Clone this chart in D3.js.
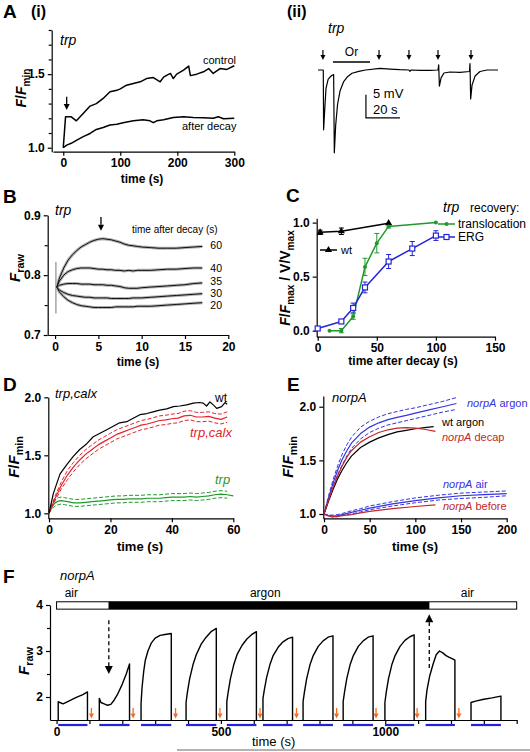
<!DOCTYPE html>
<html><head><meta charset="utf-8">
<script src="https://cdn.jsdelivr.net/npm/d3@7"></script>
<style>body{margin:0;background:#fff}</style>
</head><body>
<svg id="c" width="530" height="752"></svg>
<script>
// ---------------- DATA ----------------
// A(i) F/Fmin vs time (s)
const aControl = [[0,1.0],[4,1.21],[14,1.21],[23,1.183],[35,1.233],[47,1.283],[58,1.30],[70,1.335],[82,1.38],[94,1.39],[100,1.40],[111,1.425],[123,1.437],[135,1.448],[146,1.47],[158,1.477],[170,1.448],[176,1.48],[182,1.493],[188,1.505],[193,1.47],[199,1.50],[211,1.527],[220,1.555],[223,1.49],[234,1.50],[246,1.516],[255,1.538],[263,1.505],[275,1.538],[287,1.532],[300,1.557]];
const aDecay = [[0,1.0],[6,1.018],[14,1.03],[23,1.05],[35,1.075],[47,1.097],[58,1.124],[70,1.138],[82,1.154],[94,1.16],[105,1.17],[123,1.183],[140,1.19],[152,1.183],[158,1.17],[164,1.183],[176,1.19],[193,1.206],[211,1.21],[228,1.206],[246,1.204],[263,1.2],[272,1.21],[281,1.197],[300,1.2]];
const aXTicks = [0,100,200,300];
const aYTicks = [1.0,1.5];
const aYMinor = [1.1,1.2,1.3,1.4,1.6,1.7,1.8];
// A(ii) ERG trace: time (s), mV
const iiT = [0,2.4,3.1,3.3,3.9,4.7,6,8,9.2,9.6,10.4,11.5,13,15,17.5,20,24,28,36.5,42.4,48.2,53.5,54.1,54.7,60,65.9,70.6,71.0,71.4,72.4,74.1,77.6,83.5,89.1,89.4,89.8,90.6,92.4,95.3,99.4,105.9];
const iiV = [0,0,0,-13,-9,-4,-2,-1.2,-1.0,-18,-12,-7.5,-4.5,-2.6,-1.4,-0.7,-0.3,0,0.37,0.2,0.07,0,-0.3,0,-0.07,-0.07,0,1.1,-3.5,-1.7,-0.65,-0.43,-0.5,-0.33,1.4,-6.3,-3.3,-1.3,-0.33,0,0];
const iiArrows = [2.9,35.9,53.5,70.6,90];
const iiOdor = [8.8,30.6];
// B F_raw traces
const bTime = [0.2,0.5,1,1.5,2,2.5,3,3.5,4,4.5,5,5.5,6,6.5,7,7.5,8,8.5,9,9.5,10,11,12,13,14,15,16,17];
const b60 = [0.78,0.795,0.812,0.825,0.834,0.841,0.847,0.851,0.855,0.858,0.86,0.861,0.86,0.859,0.857,0.855,0.852,0.85,0.849,0.848,0.847,0.846,0.845,0.845,0.845,0.846,0.847,0.848];
const b40 = [0.78,0.79,0.80,0.806,0.809,0.811,0.812,0.812,0.812,0.811,0.81,0.81,0.809,0.809,0.808,0.808,0.807,0.808,0.807,0.808,0.808,0.808,0.809,0.81,0.81,0.811,0.812,0.812];
const b35 = [0.78,0.783,0.785,0.786,0.786,0.786,0.785,0.785,0.785,0.784,0.784,0.784,0.783,0.783,0.782,0.781,0.779,0.778,0.778,0.778,0.779,0.78,0.781,0.782,0.783,0.784,0.786,0.787];
const b30 = [0.78,0.775,0.771,0.768,0.766,0.765,0.764,0.763,0.763,0.762,0.762,0.762,0.762,0.761,0.761,0.761,0.761,0.761,0.762,0.762,0.762,0.763,0.764,0.765,0.766,0.767,0.768,0.769];
const b20 = [0.78,0.772,0.764,0.758,0.754,0.751,0.749,0.748,0.747,0.746,0.746,0.746,0.746,0.746,0.747,0.747,0.747,0.747,0.747,0.748,0.748,0.748,0.749,0.75,0.751,0.752,0.753,0.754];
const bLabels = ["60","40","35","30","20"];
const bLabelY = [0.843,0.805,0.783,0.763,0.743];
const bXTicks = [0,5,10,15,20];
const bYTicks = [0.7,0.8,0.9];
const bYMinor = [0.75,0.85];
// C recovery
const cWtT = [2,20,60], cWt = [0.91,0.92,0.995], cWtE = [0.02,0.03,0];
const cTrT = [10,20,30,40,50,60,100], cTr = [0.0,0.0,0.13,0.59,0.81,0.965,1.0], cTrE = [0,0.02,0.025,0.08,0.09,0.015,0];
const cErT = [0,20,30,40,60,80,100], cEr = [0.02,0.085,0.21,0.40,0.64,0.76,0.88], cErE = [0,0.015,0.045,0.05,0.065,0.065,0.045];
const cXTicks = [0,50,100,150];
const cYTicks = [0,0.5,1.0];
// D F/Fmin
const dWtT = [0,1.4,3.6,5.8,7.9,10,12.3,14.4,16.6,18.8,20.9,23,25.3,27.4,29.6,31.8,33.9,36,38.3,40.5,42.6,44.8,47,49,50.2,51.3,52.4,53.5,54.6,56.2,57.3,58];
const dWt = [1.0,1.17,1.34,1.42,1.49,1.55,1.60,1.66,1.69,1.72,1.75,1.78,1.79,1.82,1.85,1.86,1.875,1.89,1.90,1.92,1.925,1.935,1.95,1.955,1.95,1.925,1.96,1.935,1.905,1.92,1.955,1.94];
const dCalxT = [0,2,4,6,8,10,12,14,16,18,20,22,24,26,28,30,32,34,36,38,40,42,44,46,48,50,52,54,56,58];
const dCalx = [1.0,1.13,1.24,1.33,1.40,1.46,1.51,1.55,1.59,1.62,1.65,1.68,1.70,1.72,1.74,1.76,1.77,1.785,1.80,1.805,1.815,1.82,1.84,1.845,1.83,1.83,1.835,1.82,1.81,1.83];
const dCalxU = [1.0,1.15,1.27,1.37,1.44,1.50,1.55,1.59,1.63,1.66,1.69,1.72,1.74,1.76,1.78,1.80,1.81,1.825,1.84,1.845,1.855,1.86,1.88,1.885,1.87,1.87,1.875,1.86,1.855,1.875];
const dCalxL = [1.0,1.11,1.21,1.29,1.36,1.42,1.47,1.51,1.55,1.58,1.61,1.64,1.66,1.68,1.70,1.72,1.73,1.745,1.76,1.765,1.775,1.78,1.80,1.805,1.79,1.79,1.795,1.78,1.77,1.785];
const dTrpT = [0,1,2,3,4,5,6,8,10,12,14,16,18,20,22,24,26,28,30,32,34,36,38,40,42,44,46,48,50,52,54,56,58,60];
const dTrp = [1.0,1.06,1.09,1.105,1.11,1.105,1.1,1.09,1.09,1.095,1.1,1.105,1.11,1.115,1.12,1.12,1.125,1.125,1.125,1.13,1.13,1.13,1.135,1.14,1.14,1.14,1.145,1.14,1.145,1.15,1.16,1.165,1.16,1.15];
const dTrpU = [1.0,1.08,1.115,1.135,1.14,1.135,1.13,1.12,1.12,1.125,1.13,1.135,1.14,1.145,1.15,1.15,1.155,1.155,1.155,1.16,1.16,1.16,1.165,1.17,1.17,1.17,1.175,1.17,1.175,1.18,1.19,1.195,1.19];
const dTrpL = [1.0,1.04,1.065,1.075,1.08,1.075,1.07,1.06,1.06,1.065,1.07,1.075,1.08,1.085,1.09,1.09,1.095,1.095,1.095,1.1,1.1,1.1,1.105,1.11,1.11,1.11,1.115,1.11,1.115,1.12,1.13,1.135,1.13];
const dXTicks = [0,20,40,60];
const dYTicks = [1.0,1.5,2.0];
// E F/Fmin norpA
const eArgT = [0,5,10,15,20,25,30,40,50,60,70,80,90,100,115,130,145];
const eArg = [1.0,1.15,1.29,1.41,1.51,1.59,1.66,1.75,1.81,1.85,1.88,1.90,1.92,1.94,1.97,2.0,2.03];
const eArgU = [1.0,1.17,1.32,1.45,1.56,1.645,1.715,1.81,1.865,1.905,1.935,1.955,1.975,1.99,2.02,2.05,2.085];
const eArgL = [1.0,1.13,1.26,1.37,1.46,1.54,1.61,1.70,1.76,1.80,1.83,1.85,1.87,1.89,1.92,1.95,1.975];
const eWtT = [0,5,10,15,20,25,30,40,50,60,70,80,90,100,110,120];
const eWt = [1.0,1.12,1.23,1.33,1.41,1.48,1.54,1.62,1.67,1.71,1.74,1.765,1.78,1.795,1.805,1.815];
const eDecT = [0,5,10,15,20,25,30,40,50,60,70,80,90,100,110,122];
const eDec = [1.0,1.13,1.25,1.36,1.45,1.53,1.59,1.67,1.72,1.76,1.785,1.80,1.805,1.80,1.79,1.77];
const eAirT = [0,5,10,15,20,30,40,50,75,100,125,150,175,200];
const eAir = [1.0,0.985,0.98,0.985,0.995,1.015,1.035,1.055,1.095,1.125,1.15,1.17,1.18,1.19];
const eAirU = [1.0,0.99,0.99,0.995,1.005,1.03,1.05,1.075,1.115,1.15,1.175,1.195,1.205,1.215];
const eAirL = [1.0,0.98,0.97,0.975,0.985,1.0,1.02,1.04,1.075,1.105,1.13,1.145,1.155,1.17];
const eBefT = [0,5,10,15,20,30,40,50,75,100,122];
const eBef = [1.0,0.982,0.975,0.978,0.985,0.995,1.01,1.025,1.05,1.07,1.085];
const eXTicks = [0,50,100,150,200];
const eYTicks = [1.0,1.5,2.0];
// F F_raw vs time (s)
const fSegments = [
 [[5,1.5],[5,1.9],[10,1.88],[20,1.85],[40,1.92],[60,1.99],[80,2.05],[94,2.11],[94,1.5]],
 [[130,1.5],[130,1.97],[135,1.88],[145,1.85],[155,1.82],[165,1.84],[175,1.93],[185,2.05],[200,2.28],[212,2.5],[222,2.72],[222,1.5]],
 [[257,1.5],[257,1.85],[260,2.2],[265,2.55],[270,2.8],[278,3.0],[288,3.17],[300,3.28],[315,3.34],[330,3.36],[349,3.38],[349,1.5]],
 [[394,1.5],[394,1.88],[398,2.1],[405,2.4],[415,2.7],[425,2.92],[440,3.15],[455,3.3],[470,3.42],[486,3.49],[486,1.5]],
 [[518,1.5],[518,1.9],[522,2.1],[529,2.4],[539,2.7],[549,2.92],[564,3.12],[579,3.26],[594,3.36],[608,3.42],[608,1.5]],
 [[628,1.5],[628,1.97],[632,2.15],[639,2.42],[649,2.7],[659,2.9],[674,3.08],[689,3.2],[704,3.27],[718,3.30],[718,1.5]],
 [[750,1.5],[750,1.9],[754,2.1],[761,2.4],[771,2.7],[781,2.9],[796,3.1],[811,3.22],[826,3.3],[841,3.33],[841,1.5]],
 [[872,1.5],[872,1.9],[876,2.1],[883,2.4],[893,2.7],[903,2.9],[918,3.1],[933,3.22],[948,3.3],[963,3.33],[963,1.5]],
 [[999,1.5],[999,1.88],[1003,2.1],[1010,2.4],[1020,2.7],[1030,2.9],[1045,3.1],[1060,3.23],[1075,3.31],[1088,3.35],[1088,1.5]],
 [[1123,1.5],[1123,1.9],[1127,2.15],[1135,2.45],[1145,2.7],[1155,2.92],[1165,3.0],[1175,2.96],[1185,2.9],[1195,2.86],[1205,2.83],[1212,2.8],[1212,1.5]],
 [[1261,1.5],[1261,1.88],[1275,1.91],[1300,1.95],[1325,1.98],[1352,2.02],[1352,1.5]]
];
const fStim = [[5,94],[130,222],[257,349],[394,486],[518,608],[628,718],[750,841],[872,963],[999,1088],[1123,1212],[1261,1352]];
const fOrange = [106,233,362,497,619,730,852,972,1097,1224];
const fGas = [["air",0,158],["argon",158,1135],["air",1135,1400]];
const fXTicks = [0,500,1000];
const fXMinor = [100,200,300,400,600,700,800,900,1100,1200,1300,1400];
const fYTicks = [2,3,4];
const fYMinor = [2.5,3.5];

// ---------------- DRAW ----------------
const FONT = '"Liberation Sans", Arial, Helvetica, sans-serif';
const svg = d3.select("#c");
const RED = "#e3222b", GREEN = "#1f9a2a", BLUE = "#2323d8", DRED = "#c1272d", EBLUE = "#3333e0";

function styleAxis(a, fs){
  a.select(".domain").attr("stroke","#000").attr("stroke-width",1.2);
  a.selectAll(".tick line").attr("stroke","#000").attr("stroke-width",1.2);
  a.selectAll(".tick text").attr("font-family",FONT).attr("font-weight","bold").attr("font-size",fs||12).attr("fill","#000");
}
function yAxis(sc, x, major, minor, fmt, fs){
  const a = svg.append("g").attr("transform",`translate(${x},0)`)
    .call(d3.axisLeft(sc).tickValues(major).tickSize(4).tickSizeOuter(0).tickFormat(fmt));
  styleAxis(a, fs);
  if (minor){ const m = svg.append("g").attr("transform",`translate(${x},0)`)
    .call(d3.axisLeft(sc).tickValues(minor).tickSize(3).tickFormat("")); m.select(".domain").remove(); styleAxis(m); }
}
function xAxis(sc, y, major, minor, fmt, fs){
  const a = svg.append("g").attr("transform",`translate(0,${y})`)
    .call(d3.axisBottom(sc).tickValues(major).tickSize(4).tickSizeOuter(0).tickFormat(fmt));
  styleAxis(a, fs);
  if (minor){ const m = svg.append("g").attr("transform",`translate(0,${y})`)
    .call(d3.axisBottom(sc).tickValues(minor).tickSize(4).tickFormat("")); m.select(".domain").remove(); styleAxis(m); }
}
function txt(x, y, s, o={}){
  const t = svg.append("text").attr("x",x).attr("y",y).attr("font-family",FONT)
    .attr("font-size",o.size||12).attr("fill",o.fill||"#000");
  if (o.bold) t.attr("font-weight","bold");
  if (o.italic) t.attr("font-style","italic");
  if (o.anchor) t.attr("text-anchor",o.anchor);
  t.text(s); return t;
}
function rich(t, parts, base){
  let shift = 0;
  parts.forEach(p => {
    const ts = t.append("tspan").text(p.t);
    if (p.i) ts.attr("font-style","italic");
    if (p.sub){ ts.attr("font-size", base*0.72).attr("dy", 4 - shift); shift = 4; }
    else if (shift){ ts.attr("dy", -shift); shift = 0; }
  });
}
function ylab(x, y, parts, size){
  const t = svg.append("text").attr("transform",`translate(${x},${y}) rotate(-90)`)
    .attr("text-anchor","middle").attr("font-family",FONT).attr("font-weight","bold").attr("font-size",size||14);
  rich(t, parts, size||14);
}
function richText(x, y, parts, o={}){
  const t = svg.append("text").attr("x",x).attr("y",y).attr("font-family",FONT).attr("font-size",o.size||12).attr("fill",o.fill||"#000");
  if (o.bold) t.attr("font-weight","bold");
  if (o.anchor) t.attr("text-anchor",o.anchor);
  rich(t, parts, o.size||12);
}
function vArrow(x, y0, tip, o={}){
  const dir = Math.sign(tip - y0), hl = o.hl||6, hw = o.hw||3;
  svg.append("line").attr("x1",x).attr("x2",x).attr("y1",y0).attr("y2",tip - dir*hl)
    .attr("stroke",o.color||"#000").attr("stroke-width",o.w||1.3).attr("stroke-dasharray",o.dash||null);
  svg.append("path").attr("d",`M${x-hw},${tip-dir*hl}L${x+hw},${tip-dir*hl}L${x},${tip}Z`).attr("fill",o.color||"#000");
}
function path(data, xs, ys, o={}){
  svg.append("path").datum(data)
    .attr("d", d3.line().x(d=>xs(d[0])).y(d=>ys(d[1])))
    .attr("fill","none").attr("stroke",o.color||"#000").attr("stroke-width",o.w||1.2)
    .attr("stroke-dasharray",o.dash||null).attr("stroke-linejoin","round");
}
const zip = (t, v) => v.map((d,i)=>[t[i], d]);
const F1 = d3.format(".1f"), FD = d3.format("d");

// Panel letters
txt(3,18,"A",{size:19,bold:true}); txt(31,17,"(i)",{size:16,bold:true});
txt(287,17,"(ii)",{size:16,bold:true});
txt(3,203,"B",{size:19,bold:true}); txt(286,202,"C",{size:19,bold:true});
txt(3,391,"D",{size:19,bold:true}); txt(287,391,"E",{size:19,bold:true});
txt(3,583,"F",{size:19,bold:true});

// ---- A(i)
const xA = d3.scaleLinear([-18,300],[53,234.3]);
const yA = d3.scaleLinear([0.973,1.8],[151.7,30]);
yAxis(yA, 51.7, aYTicks, aYMinor, F1);
xAxis(xA, 151.7, aXTicks, null, FD);
path(aControl, xA, yA, {w:1.5});
path(aDecay, xA, yA, {w:1.5});
vArrow(xA(6), yA(1.346), yA(1.256), {w:1.3});
txt(60,45,"trp",{size:14,italic:true});
txt(203,64,"control",{size:11});
txt(182,130,"after decay",{size:11});
txt(142,183,"time  (s)",{size:12,bold:true,anchor:"middle"});
ylab(26,88,[{t:"F",i:1},{t:"/"},{t:"F",i:1},{t:"min",sub:1}],14);

// ---- A(ii)
const xT = d3.scaleLinear([0,106],[318,498.2]);
const yT = d3.scaleLinear([0,-10],[70,116]);
path(zip(iiT,iiV), xT, yT, {w:1.2});
iiArrows.forEach(t => vArrow(xT(t), yT(4.35), yT(2.17), {hl:5,hw:2.5,w:1.2}));
svg.append("line").attr("x1",xT(iiOdor[0])).attr("x2",xT(iiOdor[1])).attr("y1",62).attr("y2",62).attr("stroke","#000").attr("stroke-width",1.6);
txt(xT((iiOdor[0]+iiOdor[1])/2),56,"Or",{size:12,anchor:"middle"});
txt(328,33,"trp",{size:14,italic:true});
svg.append("path").attr("d",`M${xT(28.2)},${yT(-5.4)}V${yT(-10.4)}H${xT(48.2)}`).attr("fill","none").attr("stroke","#000").attr("stroke-width",1.2);
txt(373,98,"5 mV",{size:13}); txt(373,114,"20 s",{size:13});

// ---- B
const xB = d3.scaleLinear([-0.85,20],[47.7,228.3]);
const yB = d3.scaleLinear([0.7,0.9],[335,215.3]);
yAxis(yB, 47.7, bYTicks, bYMinor, F1);
xAxis(xB, 335, bXTicks, null, FD);
svg.append("line").attr("x1",xB(0.1)).attr("x2",xB(0.1)).attr("y1",yB(0.822)).attr("y2",yB(0.736)).attr("stroke","#777").attr("stroke-width",1);
const bSeries = [b60,b40,b35,b30,b20];
bSeries.forEach(s => path(zip(bTime,s),xB,yB,{color:"#b0b0b0",w:3}));
bSeries.forEach(s => path(zip(bTime,s),xB,yB,{color:"#111",w:1}));
bSeries.forEach((s,i) => txt(xB(17)+8, yB(bLabelY[i]), bLabels[i], {size:10.5}));
vArrow(xB(5.3), yB(0.897), yB(0.874), {w:1.3});
txt(55,215,"trp",{size:14,italic:true});
txt(132,233,"time after decay (s)",{size:10});
txt(138,366,"time (s)",{size:12,bold:true,anchor:"middle"});
ylab(20,268,[{t:"F",i:1},{t:"raw",sub:1}],15);

// ---- C
const xC = d3.scaleLinear([-0.85,150],[316.7,495]);
const yC = d3.scaleLinear([-0.056,1.04],[336.7,218.3]);
yAxis(yC, 316.7, cYTicks, null, F1);
xAxis(xC, 336.7, cXTicks, null, FD);
function errs(T,V,E,col){
  T.forEach((t,i)=>{ if(!E[i]) return; const x=xC(t);
    svg.append("path").attr("d",`M${x},${yC(V[i]-E[i])}V${yC(V[i]+E[i])}M${x-2.5},${yC(V[i]-E[i])}h5M${x-2.5},${yC(V[i]+E[i])}h5`).attr("stroke",col).attr("stroke-width",1).attr("fill","none"); });
}
errs(cWtT,cWt,cWtE,"#000"); errs(cTrT,cTr,cTrE,GREEN); errs(cErT,cEr,cErE,BLUE);
path(zip(cWtT,cWt),xC,yC,{w:1.5});
path(zip(cTrT,cTr),xC,yC,{color:GREEN,w:1.5});
path(zip(cErT,cEr),xC,yC,{color:BLUE,w:1.5});
const tri = d3.symbol(d3.symbolTriangle, 22);
cWtT.forEach((t,i)=> svg.append("path").attr("d",tri()).attr("transform",`translate(${xC(t)},${yC(cWt[i])})`).attr("fill","#000"));
cTrT.forEach((t,i)=> svg.append("circle").attr("cx",xC(t)).attr("cy",yC(cTr[i])).attr("r",2).attr("fill",GREEN));
cErT.forEach((t,i)=> svg.append("rect").attr("x",xC(t)-2.5).attr("y",yC(cEr[i])-2.5).attr("width",5).attr("height",5).attr("fill","#fff").attr("stroke",BLUE).attr("stroke-width",1.2));
// legend
svg.append("line").attr("x1",320).attr("x2",337).attr("y1",250).attr("y2",250).attr("stroke","#000").attr("stroke-width",1.5);
svg.append("path").attr("d",tri()).attr("transform","translate(328.5,250)").attr("fill","#000");
txt(341,254,"wt",{size:11});
richText(443,212,[{t:"trp",i:1}],{size:14});
txt(470,212,"recovery:",{size:12});
svg.append("line").attr("x1",438).attr("x2",455).attr("y1",224).attr("y2",224).attr("stroke",GREEN).attr("stroke-width",1.5);
svg.append("circle").attr("cx",446.5).attr("cy",224).attr("r",2).attr("fill",GREEN);
txt(458,228,"translocation",{size:12});
svg.append("line").attr("x1",438).attr("x2",455).attr("y1",237).attr("y2",237).attr("stroke",BLUE).attr("stroke-width",1.5);
svg.append("rect").attr("x",444).attr("y",234.5).attr("width",5).attr("height",5).attr("fill","#fff").attr("stroke",BLUE).attr("stroke-width",1.2);
txt(458,241,"ERG",{size:12});
txt(403,365,"time after decay (s)",{size:12,bold:true,anchor:"middle"});
ylab(290,278,[{t:"F",i:1},{t:"/"},{t:"F",i:1},{t:"max",sub:1},{t:"  / V/V"},{t:"max",sub:1}],14);

// ---- D
const xD = d3.scaleLinear([-0.23,60],[48.3,233.3]);
const yD = d3.scaleLinear([0.957,2.0],[518.3,397.3]);
yAxis(yD, 48.3, dYTicks, null, F1);
xAxis(xD, 518.3, dXTicks, null, FD);
path(zip(dTrpT,dTrpU),xD,yD,{color:GREEN,w:1,dash:"4,2"});
path(zip(dTrpT,dTrpL),xD,yD,{color:GREEN,w:1,dash:"4,2"});
path(zip(dTrpT,dTrp),xD,yD,{color:GREEN,w:1.2});
path(zip(dCalxT,dCalxU),xD,yD,{color:RED,w:1,dash:"4,2"});
path(zip(dCalxT,dCalxL),xD,yD,{color:RED,w:1,dash:"4,2"});
path(zip(dCalxT,dCalx),xD,yD,{color:RED,w:1.2});
path(zip(dWtT,dWt),xD,yD,{w:1.2});
txt(55,398,"trp,calx",{size:13,italic:true});
txt(215,402,"wt",{size:12});
txt(190,437,"trp,calx",{size:13,italic:true,fill:RED});
txt(215,484,"trp",{size:13,italic:true,fill:GREEN});
txt(140,551,"time  (s)",{size:13,bold:true,anchor:"middle"});
ylab(19,457,[{t:"F",i:1},{t:"/"},{t:"F",i:1},{t:"min",sub:1}],15);

// ---- E
const xE = d3.scaleLinear([-0.77,200],[323.3,506.7]);
const yE = d3.scaleLinear([0.96,2.1],[518.3,396]);
yAxis(yE, 323.3, eYTicks, null, F1);
xAxis(xE, 518.3, eXTicks, null, FD);
path(zip(eAirT,eAirU),xE,yE,{color:EBLUE,w:1,dash:"4,2"});
path(zip(eAirT,eAirL),xE,yE,{color:EBLUE,w:1,dash:"4,2"});
path(zip(eAirT,eAir),xE,yE,{color:EBLUE,w:1.2});
path(zip(eBefT,eBef),xE,yE,{color:DRED,w:1.2});
path(zip(eArgT,eArgU),xE,yE,{color:EBLUE,w:1,dash:"4,2"});
path(zip(eArgT,eArgL),xE,yE,{color:EBLUE,w:1,dash:"4,2"});
path(zip(eArgT,eArg),xE,yE,{color:EBLUE,w:1.2});
path(zip(eWtT,eWt),xE,yE,{w:1.2});
path(zip(eDecT,eDec),xE,yE,{color:DRED,w:1.2});
txt(332,402,"norpA",{size:13,italic:true});
richText(467,407,[{t:"norpA",i:1},{t:" argon"}],{size:11,fill:EBLUE});
txt(442,426,"wt argon",{size:11});
richText(442,441,[{t:"norpA",i:1},{t:" decap"}],{size:11,fill:DRED});
richText(443,488,[{t:"norpA",i:1},{t:" air"}],{size:11,fill:EBLUE});
richText(443,510,[{t:"norpA",i:1},{t:" before"}],{size:11,fill:DRED});
txt(415,551,"time  (s)",{size:13,bold:true,anchor:"middle"});
ylab(293,457,[{t:"F",i:1},{t:"/"},{t:"F",i:1},{t:"min",sub:1}],15);

// ---- F
const xF = d3.scaleLinear([-20,1400],[50,516.7]);
const yF = d3.scaleLinear([1.5,4],[720,605]);
yAxis(yF, 50, fYTicks, fYMinor, FD);
xAxis(xF, 720, fXTicks, fXMinor, FD);
fGas.forEach(g => svg.append("rect").attr("x",xF(g[1])).attr("y",yF(4.07)).attr("width",xF(g[2])-xF(g[1])).attr("height",yF(3.91)-yF(4.07))
  .attr("fill", g[0]==="argon" ? "#000" : "#fff"));
svg.append("rect").attr("x",xF(0)).attr("y",yF(4.07)).attr("width",xF(1400)-xF(0)).attr("height",yF(3.91)-yF(4.07)).attr("fill","none").attr("stroke","#000").attr("stroke-width",1);
txt(xF(45),597,"air",{size:12,anchor:"middle"});
txt(xF(635),597,"argon",{size:12,anchor:"middle"});
txt(xF(1250),597,"air",{size:12,anchor:"middle"});
fSegments.forEach(s => path(s, xF, yF, {w:1.4}));
fStim.forEach(s => svg.append("line").attr("x1",xF(s[0])).attr("x2",xF(s[1])).attr("y1",725).attr("y2",725).attr("stroke",BLUE).attr("stroke-width",2.2));
fOrange.forEach(t => vArrow(xF(t), yF(1.76), yF(1.53), {color:"#f26a21",hl:5,hw:2.5,w:1.3}));
vArrow(xF(159), yF(3.67), yF(2.5), {dash:"4,3",hl:8,hw:4,w:1.3});
vArrow(xF(1134), yF(2.63), yF(3.8), {dash:"4,3",hl:8,hw:4,w:1.3});
txt(60,580,"norpA",{size:13,italic:true});
ylab(29,661,[{t:"F",i:1},{t:"raw",sub:1}],15);
svg.append("line").attr("x1",177).attr("x2",530).attr("y1",750).attr("y2",750).attr("stroke","#666").attr("stroke-width",1);
txt(252,746,"time (s)",{size:13});
</script>
</body></html>
